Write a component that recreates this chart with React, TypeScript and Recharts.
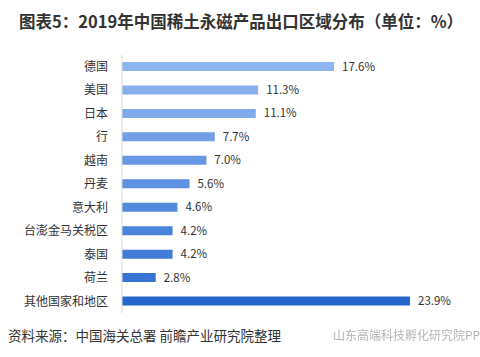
import { BarChart, Bar, XAxis, YAxis, Cell, LabelList } from "recharts";

const regions = [
  "德国",
  "美国",
  "日本",
  "行",
  "越南",
  "丹麦",
  "意大利",
  "台澎金马关税区",
  "泰国",
  "荷兰",
  "其他国家和地区",
];
const shares = [17.6, 11.3, 11.1, 7.7, 7.0, 5.6, 4.6, 4.2, 4.2, 2.8, 23.9];
const barColors = [
  "#90b6f0",
  "#88b0ee",
  "#80aaec",
  "#729fe8",
  "#6898e5",
  "#5e91e2",
  "#528ade",
  "#4a83db",
  "#417cd8",
  "#3774d4",
  "#2666cc",
];

const data = regions.map((name, i) => ({ name, value: shares[i] }));

const App = () => {
  return (
    <div
      style={{
        position: "fixed",
        top: 0,
        left: 0,
        width: 480,
        height: 357,
        background: "#fff",
        fontFamily: "'Noto Sans CJK SC', 'Noto Sans', sans-serif",
      }}
    >
      <div
        style={{
          position: "absolute",
          left: 19,
          top: 9,
          fontSize: 16.5,
          fontWeight: 700,
          color: "#333",
          whiteSpace: "nowrap",
        }}
      >
        图表5：2019年中国稀土永磁产品出口区域分布（单位：%）
      </div>
      <BarChart
        width={480}
        height={357}
        data={data}
        layout="vertical"
        margin={{ top: 55, right: 70, bottom: 44, left: 12 }}
        barCategoryGap={7}
      >
        <XAxis type="number" domain={[0, 23.9]} hide />
        <YAxis
          type="category"
          dataKey="name"
          width={110}
          tickLine={false}
          axisLine={{ stroke: "#d9d9d9" }}
          tick={{ fontSize: 12, fill: "#333" }}
          tickMargin={8}
          interval={0}
        />
        <Bar dataKey="value" isAnimationActive={false}>
          {data.map((d, i) => (
            <Cell key={d.name} fill={barColors[i]} />
          ))}
          <LabelList
            dataKey="value"
            position="right"
            offset={8}
            formatter={(v: number) => `${v.toFixed(1)}%`}
            style={{ fontSize: 11.5, fill: "#333" }}
          />
        </Bar>
      </BarChart>
      <div
        style={{
          position: "absolute",
          left: 8,
          top: 325,
          fontSize: 13.5,
          color: "#333",
          whiteSpace: "nowrap",
        }}
      >
        资料来源：中国海关总署 前瞻产业研究院整理
      </div>
      <div
        style={{
          position: "absolute",
          left: 333,
          top: 326,
          fontSize: 12,
          color: "#b5b5b5",
          whiteSpace: "nowrap",
        }}
      >
        山东高端科技孵化研究院PP
      </div>
    </div>
  );
};

export default App;
